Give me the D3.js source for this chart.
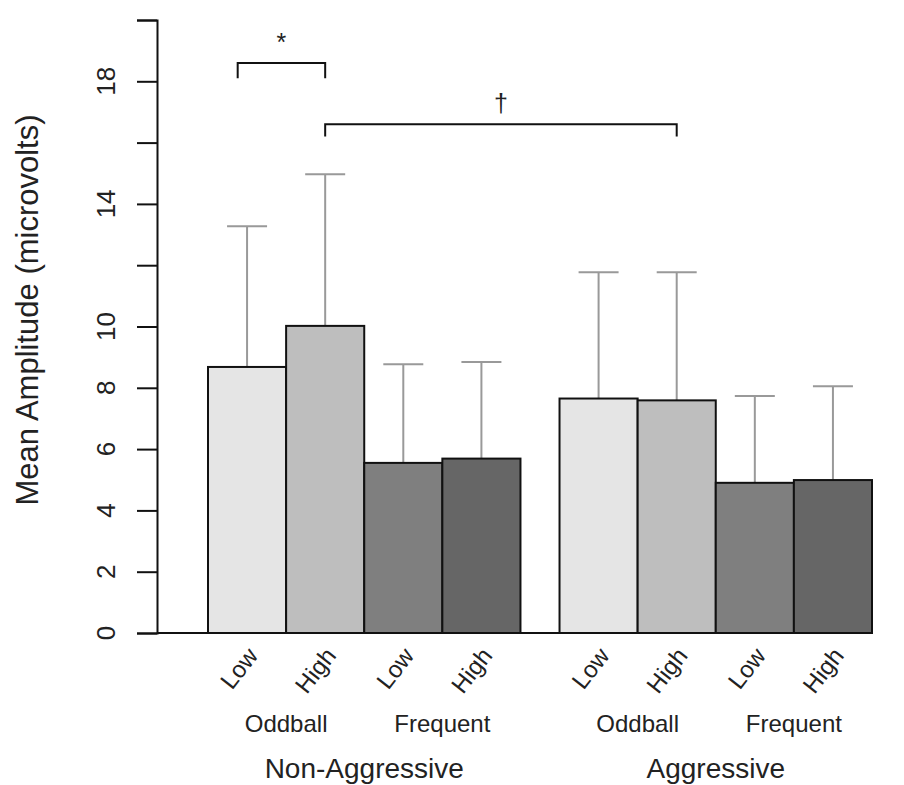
<!DOCTYPE html>
<html>
<head>
<meta charset="utf-8">
<script src="https://cdn.jsdelivr.net/npm/d3@7"></script>
<style>
  body { margin: 0; background: #fff; }
  svg text { font-family: "Liberation Sans", Arial, sans-serif; fill: #222; }
</style>
</head>
<body>
<div id="chart"></div>
<script>
// groups and conditions
let groups = ['Non-Aggressive', 'Aggressive'];
let stimuli = ['Oddball', 'Frequent'];
let levels = ['Low', 'High'];

// bar means, one row per group (Oddball Low, Oddball High, Frequent Low, Frequent High)
let means = [
  [8.68, 10.02, 5.55, 5.69],
  [7.65, 7.59, 4.90, 4.99]
];
// upper ends of the error bars
let upper = [
  [13.27, 14.97, 8.77, 8.84],
  [11.77, 11.77, 7.73, 8.05]
];

let barColors = ['#e5e5e5', '#bebebe', '#7f7f7f', '#666666'];

let yTicks = [0, 2, 4, 6, 8, 10, 12, 14, 16, 18, 20];
let yLabels = [0, 2, 4, 6, 8, 10, 14, 18];

// significance brackets: x in bar units, y in microvolts
let brackets = [
  {x1: 0.38, x2: 1.5, top: 18.6, leg: 18.1, label: '*'},
  {x1: 1.5, x2: 6.0, top: 16.6, leg: 16.2, label: '\u2020'}
];

let width = 904;
let height = 785;

let svg = d3.select('#chart')
.append('svg')
.attr('width', width)
.attr('height', height);

// bar units: each bar is 1 wide, half a bar between groups
let groupStep = 4.5;
let x = d3.scaleLinear().domain([0, 8.5]).range([208, 872]);
let y = d3.scaleLinear().domain([0, 20]).range([633, 20]);

let bars = [];
for (let g = 0; g < groups.length; g++) {
  for (let i = 0; i < 4; i++) {
    bars.push({g: g, i: i, start: g * groupStep + i, mean: means[g][i], up: upper[g][i]});
  }
}

// error bars (only upward, grey)
let err = svg.append('g').attr('stroke', '#999').attr('stroke-width', 2);
err.selectAll('line.stem')
.data(bars)
.enter()
.append('line')
.attr('class', 'stem')
.attr('x1', d => x(d.start + 0.5))
.attr('x2', d => x(d.start + 0.5))
.attr('y1', d => y(d.mean))
.attr('y2', d => y(d.up));
err.selectAll('line.cap')
.data(bars)
.enter()
.append('line')
.attr('class', 'cap')
.attr('x1', d => x(d.start + 0.5) - 20)
.attr('x2', d => x(d.start + 0.5) + 20)
.attr('y1', d => y(d.up))
.attr('y2', d => y(d.up));

// bars
svg.append('g')
.selectAll('rect')
.data(bars)
.enter()
.append('rect')
.attr('x', d => x(d.start))
.attr('width', d => x(d.start + 1) - x(d.start))
.attr('y', d => y(d.mean))
.attr('height', d => y(0) - y(d.mean))
.attr('fill', d => barColors[d.i])
.attr('stroke', '#111')
.attr('stroke-width', 2);

// baseline
svg.append('line')
.attr('x1', 157)
.attr('x2', x(8.5))
.attr('y1', y(0))
.attr('y2', y(0))
.attr('stroke', '#111')
.attr('stroke-width', 2);

// y axis
let yAxis = svg.append('g')
.attr('transform', 'translate(157,0)')
.call(d3.axisLeft(y).tickValues(yTicks).tickSize(20).tickFormat(''));
yAxis.select('.domain').attr('stroke', '#111').attr('stroke-width', 2);
yAxis.selectAll('.tick line').attr('stroke', '#111').attr('stroke-width', 2);

svg.append('g')
.selectAll('text')
.data(yLabels)
.enter()
.append('text')
.attr('transform', d => 'translate(115,' + y(d) + ') rotate(-90)')
.attr('text-anchor', 'middle')
.style('font-size', '26px')
.text(d => d);

// y title
svg.append('text')
.attr('transform', 'translate(38,310) rotate(-90)')
.attr('text-anchor', 'middle')
.style('font-size', '31px')
.text('Mean Amplitude (microvolts)');

// rotated level labels under each bar
svg.append('g')
.selectAll('text')
.data(bars)
.enter()
.append('text')
.attr('transform', d => 'translate(' + (x(d.start + 0.5) + 12) + ',656) rotate(-52)')
.attr('text-anchor', 'end')
.style('font-size', '24px')
.text(d => levels[d.i % 2]);

// stimulus labels
let stimData = [];
for (let g = 0; g < groups.length; g++) {
  for (let s = 0; s < stimuli.length; s++) {
    stimData.push({label: stimuli[s], mid: g * groupStep + s * 2 + 1});
  }
}
svg.append('g')
.selectAll('text')
.data(stimData)
.enter()
.append('text')
.attr('x', d => x(d.mid))
.attr('y', 732)
.attr('text-anchor', 'middle')
.style('font-size', '24px')
.text(d => d.label);

// group labels
svg.append('g')
.selectAll('text')
.data(groups)
.enter()
.append('text')
.attr('x', (d, g) => x(g * groupStep + 2))
.attr('y', 778)
.attr('text-anchor', 'middle')
.style('font-size', '28px')
.text(d => d);

// significance brackets
let br = svg.append('g');
br.selectAll('path')
.data(brackets)
.enter()
.append('path')
.attr('d', d => 'M' + x(d.x1) + ',' + y(d.leg) + 'V' + y(d.top) + 'H' + x(d.x2) + 'V' + y(d.leg))
.attr('fill', 'none')
.attr('stroke', '#111')
.attr('stroke-width', 2);
br.selectAll('text')
.data(brackets)
.enter()
.append('text')
.attr('x', d => (x(d.x1) + x(d.x2)) / 2)
.attr('y', d => y(d.top) - 12)
.attr('text-anchor', 'middle')
.style('font-size', '25px')
.text(d => d.label);
</script>
</body>
</html>
